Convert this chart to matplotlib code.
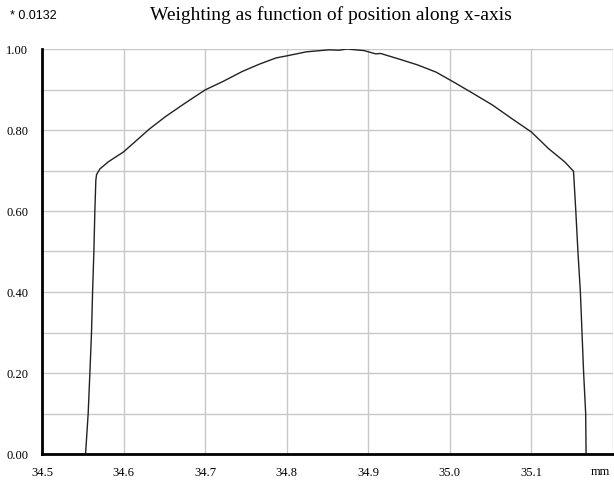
import matplotlib
matplotlib.use("Agg")
import matplotlib.pyplot as plt
from matplotlib.ticker import MultipleLocator, FixedLocator

# Data
pos_mm = [34.5534, 34.5566, 34.5587, 34.5607, 34.5620, 34.5636, 34.5648, 34.5660,
          34.5669, 34.5710, 34.5740, 34.5810, 34.5870, 34.6000, 34.6320, 34.6520,
          34.6730, 34.7000, 34.7220, 34.7460, 34.7670, 34.7870, 34.8000, 34.8240,
          34.8520, 34.8640, 34.8740, 34.8950, 34.9090, 34.9150, 34.9380, 34.9600,
          34.9830, 35.0050, 35.0270, 35.0520, 35.0760, 35.1000, 35.1210, 35.1410,
          35.1516, 35.1544, 35.1570, 35.1600, 35.1620, 35.1640, 35.1665, 35.1670]
weight = [0.000, 0.100, 0.200, 0.300, 0.400, 0.500, 0.600, 0.676,
          0.690, 0.704, 0.709, 0.721, 0.729, 0.746, 0.803, 0.834,
          0.863, 0.899, 0.920, 0.945, 0.963, 0.978, 0.983, 0.993,
          0.998, 0.997, 1.000, 0.996, 0.988, 0.989, 0.975, 0.961,
          0.943, 0.918, 0.892, 0.862, 0.828, 0.795, 0.754, 0.721,
          0.698, 0.600, 0.500, 0.400, 0.300, 0.200, 0.100, 0.000]

x_ticks = [34.5, 34.6, 34.7, 34.8, 34.9, 35.0, 35.1]
x_tick_labels = ["34.5", "34.6", "34.7", "34.8", "34.9", "35.0", "35.1"]
y_ticks = [0.0, 0.2, 0.4, 0.6, 0.8, 1.0]
y_tick_labels = ["0.00", "0.20", "0.40", "0.60", "0.80", "1.00"]
title = "Weighting as function of position along x-axis"
scale_note = "* 0.0132"
unit = "mm"

serif = ["Liberation Serif", "DejaVu Serif"]
sans = ["Liberation Sans", "DejaVu Sans"]

fig = plt.figure(figsize=(6.14, 4.85), dpi=100)
ax = fig.add_axes([42/614, 1 - 455/485, (613-42)/614, (455-50)/485])

ax.plot(pos_mm, weight, color="#222222", lw=1.0, zorder=3)

ax.set_xlim(34.5, 35.2)
ax.set_ylim(0.0, 1.0)

ax.xaxis.set_major_locator(FixedLocator(x_ticks))
ax.set_xticklabels(x_tick_labels, family=serif, fontsize=9)
ax.xaxis.set_minor_locator(FixedLocator([35.2]))
ax.yaxis.set_major_locator(FixedLocator(y_ticks))
ax.set_yticklabels(y_tick_labels, family=serif, fontsize=9)
ax.yaxis.set_minor_locator(MultipleLocator(0.1))

ax.grid(True, which="both", color="#c8c8c8", lw=1.0, zorder=0)
ax.tick_params(which="both", length=0)
ax.tick_params(axis="x", pad=9)
ax.tick_params(axis="y", pad=10)

for s in ["top", "right"]:
    ax.spines[s].set_visible(False)
for s in ["left", "bottom"]:
    ax.spines[s].set_color("black")
    ax.spines[s].set_linewidth(2.0)
    ax.spines[s].set_zorder(4)

fig.text(331/614, 1 - 15/485, title, family=serif, fontsize=14,
         ha="center", va="center")
fig.text(10/614, 1 - 16/485, scale_note, family=sans, fontsize=9,
         ha="left", va="center")
fig.text(600/614, 1 - 472/485, unit, family=serif, fontsize=9,
         ha="center", va="center")

fig.savefig("out.png", dpi=100)
